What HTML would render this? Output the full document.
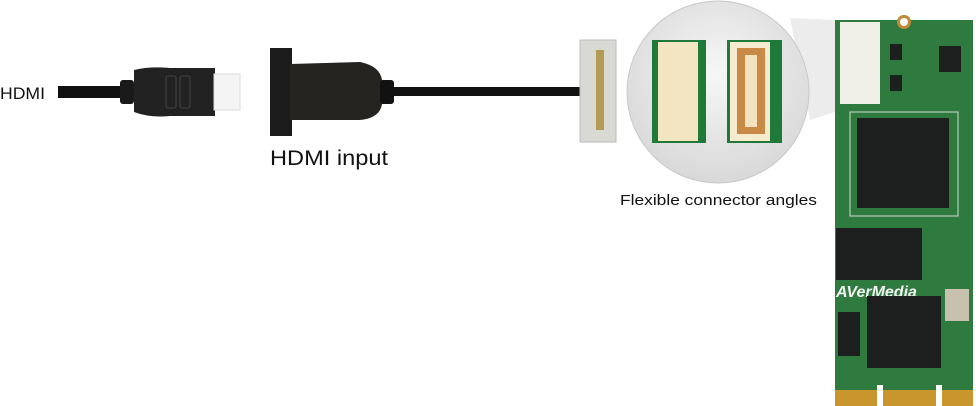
<!DOCTYPE html>
<html><head><style>
html,body{margin:0;padding:0;background:#fff;width:976px;height:406px;overflow:hidden}
svg{display:block}
text{font-family:"Liberation Sans",sans-serif;fill:#111}
</style></head><body>
<svg width="976" height="406" viewBox="0 0 976 406" xmlns="http://www.w3.org/2000/svg">
<defs>
<radialGradient id="cg" cx="0.5" cy="0.4" r="0.6"><stop offset="0" stop-color="#f7f7f7"/><stop offset="1" stop-color="#d8d8d8"/></radialGradient>
</defs>
<text x="0" y="99" font-size="17" textLength="45" lengthAdjust="spacingAndGlyphs">HDMI</text>
<rect x="58" y="86" width="70" height="12" fill="#111"/>
<rect x="120" y="80" width="14" height="24" rx="3" fill="#1a1a1a"/>
<path d="M134 70 Q150 66 170 68 L215 68 L215 116 L170 116 Q150 118 134 112 Z" fill="#222"/>
<rect x="166" y="76" width="10" height="32" rx="2" fill="none" stroke="#444"/>
<rect x="180" y="76" width="10" height="32" rx="2" fill="none" stroke="#444"/>
<rect x="214" y="74" width="26" height="36" fill="#f4f4f4" stroke="#ddd"/>
<rect x="270" y="48" width="22" height="88" fill="#1c1c1c"/>
<path d="M290 64 L360 62 Q380 66 382 80 L382 104 Q380 118 360 120 L290 120 Z" fill="#262420"/>
<rect x="380" y="80" width="14" height="24" rx="3" fill="#111"/>
<rect x="394" y="87" width="190" height="9" fill="#111"/>
<text x="270" y="165" font-size="21" textLength="118" lengthAdjust="spacingAndGlyphs">HDMI input</text>
<rect x="580" y="40" width="36" height="102" fill="#d9d9d4" stroke="#bbb"/>
<rect x="596" y="50" width="8" height="80" fill="#b59a55"/>
<polygon points="790,18 835,20 835,112 810,120" fill="#ececec"/>
<circle cx="718" cy="92" r="91" fill="url(#cg)" stroke="#c8c8c8"/>
<rect x="652" y="40" width="54" height="103" fill="#1f7a3a"/>
<rect x="658" y="42" width="40" height="99" fill="#f3e4c2"/>
<rect x="727" y="40" width="55" height="103" fill="#1f7a3a"/>
<rect x="730" y="42" width="40" height="99" fill="#f6ead0"/>
<rect x="737" y="48" width="28" height="86" fill="#c88a45"/>
<rect x="745" y="55" width="12" height="72" fill="#f3e2c0"/>
<text x="620" y="205" font-size="15" textLength="197" lengthAdjust="spacingAndGlyphs">Flexible connector angles</text>
<path d="M835 20 L973 20 L973 390 L835 390 Z" fill="#2f7a3e"/>
<rect x="835" y="390" width="138" height="16" fill="#c8962c"/>
<rect x="877" y="385" width="6" height="21" fill="#fff"/><rect x="936" y="385" width="6" height="21" fill="#fff"/>
<circle cx="904" cy="22" r="7" fill="#c08a3a"/><circle cx="904" cy="22" r="4" fill="#fff"/>
<rect x="840" y="22" width="40" height="82" fill="#f0efe8"/>
<rect x="850" y="112" width="108" height="104" fill="none" stroke="#cfd9cf"/>
<rect x="857" y="118" width="92" height="90" fill="#1d1f1f"/>
<rect x="836" y="228" width="86" height="52" fill="#1d1f1f"/>
<text x="836" y="297" font-size="16" font-weight="bold" font-style="italic" style="fill:#f2f2f2">AVerMedia</text>
<rect x="867" y="296" width="74" height="72" fill="#1d1f1f"/>
<rect x="945" y="289" width="24" height="32" fill="#c9c1b0"/>
<rect x="838" y="312" width="22" height="44" fill="#1d1f1f"/>
<rect x="939" y="46" width="22" height="26" fill="#1d1f1f"/>
<rect x="890" y="44" width="12" height="16" fill="#1d1f1f"/>
<rect x="890" y="75" width="12" height="16" fill="#1d1f1f"/>
</svg>
</body></html>
